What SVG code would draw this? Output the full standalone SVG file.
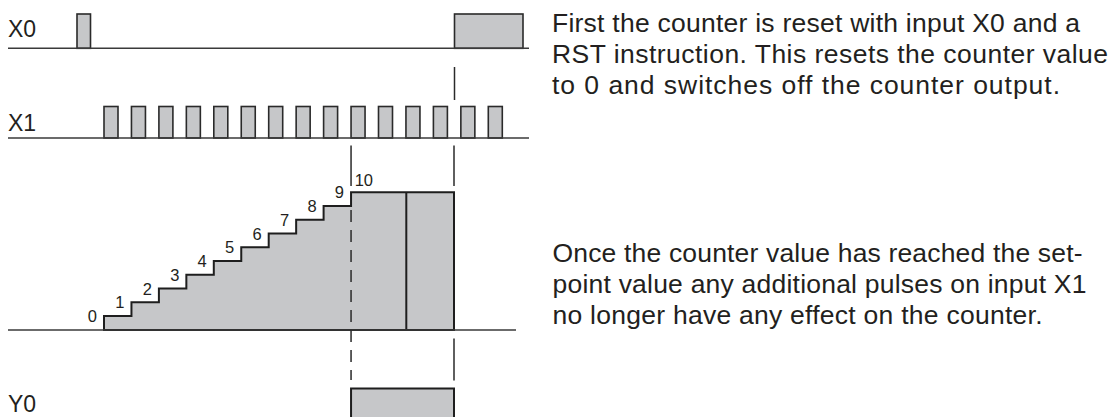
<svg xmlns="http://www.w3.org/2000/svg" width="1113" height="417" viewBox="0 0 1113 417">
<style>
.lbl{font-family:"Liberation Sans",Arial,sans-serif;font-size:23px;fill:#231f20}
.num{font-family:"Liberation Sans",Arial,sans-serif;font-size:16.5px;fill:#231f20;text-anchor:end}
.txt{font-family:"Liberation Sans",Arial,sans-serif;font-size:26.5px;fill:#231f20}
.axis{stroke:#3a3a3a;stroke-width:1.6;fill:none}
.pulse{fill:#c6c7c9;stroke:#2a2a2a;stroke-width:1.6}
.sig{fill:#c6c7c9;stroke:#1e1e1e;stroke-width:2;stroke-linejoin:miter}
.vl{stroke:#2a2a2a;stroke-width:1.5;fill:none}
.dash{stroke:#2a2a2a;stroke-width:1.5;fill:none;stroke-dasharray:12 8}
</style>
<rect width="1113" height="417" fill="#ffffff"/>
<g id="X0">
<text class="lbl" x="8" y="36.5">X0</text>
<rect class="pulse" x="77" y="14" width="13.5" height="34.3"/>
<rect class="pulse" x="454.5" y="14" width="68.5" height="34.3"/>
<line class="axis" x1="8" y1="48.3" x2="529" y2="48.3"/>
</g>
<g id="X1">
<text class="lbl" x="8" y="130.5">X1</text>
<g>
<rect class="pulse" x="104" y="106.5" width="14" height="31.5"/>
<rect class="pulse" x="131.45" y="106.5" width="14" height="31.5"/>
<rect class="pulse" x="158.9" y="106.5" width="14" height="31.5"/>
<rect class="pulse" x="186.35" y="106.5" width="14" height="31.5"/>
<rect class="pulse" x="213.8" y="106.5" width="14" height="31.5"/>
<rect class="pulse" x="241.25" y="106.5" width="14" height="31.5"/>
<rect class="pulse" x="268.7" y="106.5" width="14" height="31.5"/>
<rect class="pulse" x="296.15" y="106.5" width="14" height="31.5"/>
<rect class="pulse" x="323.6" y="106.5" width="14" height="31.5"/>
<rect class="pulse" x="351.05" y="106.5" width="14" height="31.5"/>
<rect class="pulse" x="378.5" y="106.5" width="14" height="31.5"/>
<rect class="pulse" x="405.95" y="106.5" width="14" height="31.5"/>
<rect class="pulse" x="433.4" y="106.5" width="14" height="31.5"/>
<rect class="pulse" x="460.85" y="106.5" width="14" height="31.5"/>
<rect class="pulse" x="488.3" y="106.5" width="14" height="31.5"/>
</g>
<line class="axis" x1="8" y1="138" x2="529" y2="138"/>
</g>
<g id="counter">
<path class="sig" d="M104,330 V316 H131.45 V302.26 H158.9 V288.52 H186.35 V274.78 H213.8 V261.04 H241.25 V247.3 H268.7 V233.56 H296.15 V219.82 H323.6 V206.08 H351.05 V192.34 H454 V330 Z"/>
<line class="sig" x1="406.3" y1="192.34" x2="406.3" y2="330"/>
<line class="axis" x1="8" y1="330" x2="516" y2="330"/>
<text class="num" x="97" y="322">0</text>
<text class="num" x="124.45" y="308.3">1</text>
<text class="num" x="151.9" y="294.5">2</text>
<text class="num" x="179.35" y="280.8">3</text>
<text class="num" x="206.8" y="267">4</text>
<text class="num" x="234.25" y="253.3">5</text>
<text class="num" x="261.7" y="239.5">6</text>
<text class="num" x="289.15" y="225.8">7</text>
<text class="num" x="316.6" y="212.1">8</text>
<text class="num" x="344.05" y="198.3">9</text>
<text class="num" x="373" y="185.5">10</text>
</g>
<g id="Y0">
<text class="lbl" x="8" y="411.5">Y0</text>
<rect class="sig" x="351.05" y="388.5" width="102.95" height="40"/>
</g>
<g id="connectors">
<line class="vl" x1="454.5" y1="67" x2="454.5" y2="100"/>
<line class="vl" x1="351.05" y1="145.5" x2="351.05" y2="186"/>
<line class="vl" x1="454" y1="145.5" x2="454" y2="186"/>
<line class="dash" x1="351.05" y1="210" x2="351.05" y2="380"/>
<line class="vl" x1="454" y1="338.5" x2="454" y2="380.5"/>
</g>
<g id="note1">
<text class="txt" x="552" y="31.5" textLength="528" lengthAdjust="spacing">First the counter is reset with input X0 and a</text>
<text class="txt" x="552" y="62.5" textLength="556" lengthAdjust="spacing">RST instruction. This resets the counter value</text>
<text class="txt" x="552" y="93.5" textLength="508" lengthAdjust="spacing">to 0 and switches off the counter output.</text>
</g>
<g id="note2">
<text class="txt" x="552.5" y="261.5" textLength="530" lengthAdjust="spacing">Once the counter value has reached the set-</text>
<text class="txt" x="552.5" y="292.5" textLength="534" lengthAdjust="spacing">point value any additional pulses on input X1</text>
<text class="txt" x="552.5" y="323.5" textLength="490" lengthAdjust="spacing">no longer have any effect on the counter.</text>
</g>
</svg>
